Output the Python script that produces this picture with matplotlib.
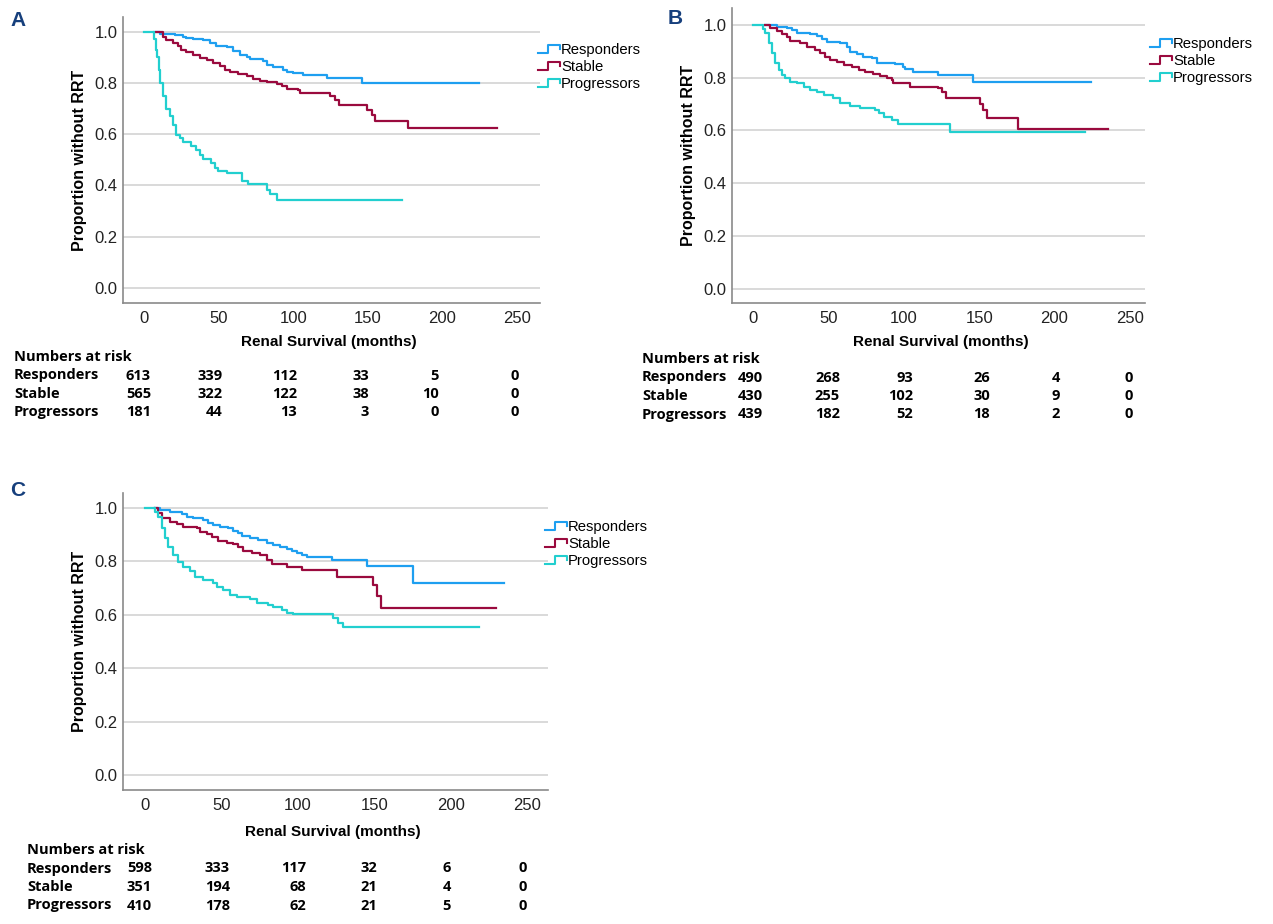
import matplotlib
matplotlib.use('Agg')
from matplotlib import pyplot as plt
from matplotlib.legend_handler import HandlerBase
from matplotlib.lines import Line2D

W, H = 1273, 924

# Kaplan-Meier steps (months, proportion without RRT)
a_resp_t = [7, 10.5, 20.6, 26.2, 28.4, 33, 39.6, 44, 48.5, 55.3, 59.8, 64.2, 68.7, 70.9, 79.9, 82.1, 86.6, 93.3,
            95.6, 100, 106.8, 122.4, 145.9, 224.3]
a_resp_s = [1.0, 0.99, 0.987, 0.98, 0.974, 0.97, 0.968, 0.955, 0.944, 0.939, 0.925, 0.91, 0.9, 0.892, 0.887, 0.87,
            0.861, 0.85, 0.844, 0.838, 0.831, 0.821, 0.801, 0.801]
a_stab_t = [8.3, 12.8, 15, 19.5, 22.8, 25, 28.4, 32.9, 37.4, 41.9, 46.3, 50.8, 54.2, 57.5, 63.1, 68.7, 73.2, 77.7,
            82.1, 88.9, 92.2, 95.6, 103.4, 104.5, 124.7, 128, 131, 149.3, 152.6, 154.9, 176.6, 236.6]
a_stab_s = [1.0, 0.98, 0.968, 0.955, 0.942, 0.929, 0.922, 0.909, 0.896, 0.89, 0.877, 0.864, 0.851, 0.844, 0.835,
            0.825, 0.816, 0.808, 0.803, 0.796, 0.786, 0.778, 0.773, 0.76, 0.749, 0.734, 0.714, 0.695, 0.675, 0.653,
            0.623, 0.623]
a_prog_t = [0, 6.5, 7, 8, 9, 10, 11, 12.8, 15, 17.2, 19.5, 21.7, 23.9, 26.2, 31.8, 35.1, 37.4, 39.6, 45.2, 47.4,
            49.7, 55.3, 65.4, 69.8, 82.1, 84.4, 88.9, 172.8]
a_prog_s = [1.0, 0.985, 0.97, 0.93, 0.9, 0.85, 0.8, 0.747, 0.7, 0.669, 0.636, 0.597, 0.584, 0.568, 0.552, 0.539,
            0.519, 0.503, 0.487, 0.468, 0.457, 0.448, 0.419, 0.406, 0.383, 0.368, 0.344, 0.344]

b_resp_t = [8.2, 15.9, 22.5, 25.8, 29.2, 38, 42.4, 45.7, 49, 57.9, 62.3, 64.5, 68.9, 73.3, 78.8, 82.2, 94.3, 99.8,
            101, 106, 123, 146.2, 223.9]
b_resp_s = [1.0, 0.992, 0.986, 0.98, 0.967, 0.965, 0.957, 0.945, 0.933, 0.929, 0.917, 0.898, 0.888, 0.879, 0.873,
            0.854, 0.85, 0.839, 0.831, 0.822, 0.81, 0.785, 0.785]
b_stab_t = [8.2, 11.5, 15.9, 19.2, 22.5, 24.7, 31.4, 35.8, 41.3, 44.6, 47.9, 51.2, 55.7, 60.1, 65.6, 70, 74.4, 79.9,
            84.4, 88.8, 92.1, 93.2, 104.2, 123, 125.2, 128.1, 150.6, 152.8, 155, 176, 235.6]
b_stab_s = [1.0, 0.986, 0.977, 0.965, 0.955, 0.938, 0.929, 0.917, 0.904, 0.892, 0.879, 0.866, 0.858, 0.848, 0.839,
            0.829, 0.82, 0.814, 0.806, 0.8, 0.791, 0.778, 0.766, 0.759, 0.747, 0.722, 0.699, 0.678, 0.646, 0.606,
            0.606]
b_prog_t = [0, 6.6, 8.2, 10.4, 12.6, 14.8, 17, 19.2, 21.4, 24.7, 29.2, 33.6, 38, 42.4, 46.8, 53.4, 57.9, 64.5, 71.1,
            81, 83.3, 86.6, 92.1, 96.5, 130.7, 220.2]
b_prog_s = [1.0, 0.985, 0.967, 0.929, 0.892, 0.854, 0.829, 0.81, 0.797, 0.785, 0.778, 0.766, 0.753, 0.744, 0.734,
            0.722, 0.703, 0.693, 0.684, 0.678, 0.665, 0.652, 0.64, 0.624, 0.596, 0.596]

c_resp_t = [6.5, 9.8, 16.4, 24, 27.3, 31.6, 38.2, 41.4, 44.7, 49.1, 54.5, 57.8, 61.1, 63.3, 68.7, 74.2, 79.6, 84,
            88.3, 92.7, 96, 99.3, 102.5, 105.8, 122.2, 145.1, 175.2, 235]
c_resp_s = [1.0, 0.991, 0.983, 0.976, 0.966, 0.96, 0.954, 0.944, 0.935, 0.927, 0.923, 0.914, 0.904, 0.894, 0.885,
            0.879, 0.867, 0.86, 0.854, 0.846, 0.839, 0.832, 0.823, 0.814, 0.804, 0.782, 0.717, 0.717]
c_stab_t = [6.5, 8.7, 10.9, 16.4, 20.7, 25.1, 33.8, 36, 40.4, 43.6, 48, 53.4, 57.8, 61.1, 64.4, 69.8, 75.3, 79.6,
            82.9, 92.7, 102.5, 125.9, 149.4, 152, 154.2, 229.7]
c_stab_s = [1.0, 0.979, 0.96, 0.948, 0.939, 0.927, 0.923, 0.91, 0.902, 0.889, 0.876, 0.869, 0.864, 0.854, 0.839,
            0.829, 0.823, 0.804, 0.789, 0.78, 0.767, 0.742, 0.711, 0.671, 0.626, 0.626]
c_prog_t = [0, 6.5, 8.7, 10.9, 13.1, 15.3, 18.5, 21.8, 25.1, 29.5, 32.7, 38.2, 44.7, 46.9, 51.3, 55.6, 60, 68.7,
            73.1, 80.7, 84, 89.4, 92.7, 97.1, 123.3, 126.5, 129.8, 218.8]
c_prog_s = [1.0, 0.985, 0.966, 0.923, 0.885, 0.854, 0.823, 0.798, 0.777, 0.765, 0.742, 0.73, 0.717, 0.705, 0.692,
            0.674, 0.665, 0.658, 0.643, 0.636, 0.63, 0.618, 0.608, 0.602, 0.587, 0.568, 0.553, 0.553]

groups = ['Responders', 'Stable', 'Progressors']
colors = ['#1e9ff0', '#9a0a3e', '#22cfcf']
xticks = [0, 50, 100, 150, 200, 250]
yticks = [0.0, 0.2, 0.4, 0.6, 0.8, 1.0]

# numbers at risk at 0, 50, 100, 150, 200, 250 months
a_risk = [[613, 339, 112, 33, 5, 0], [565, 322, 122, 38, 10, 0], [181, 44, 13, 3, 0, 0]]
b_risk = [[490, 268, 93, 26, 4, 0], [430, 255, 102, 30, 9, 0], [439, 182, 52, 18, 2, 0]]
c_risk = [[598, 333, 117, 32, 6, 0], [351, 194, 68, 21, 4, 0], [410, 178, 62, 21, 5, 0]]


class StepHandler(HandlerBase):
    # little step-shaped legend key like SPSS draws
    def create_artists(self, legend, orig_handle, xdescent, ydescent, width, height, fontsize, trans):
        x0, y0 = -xdescent, -ydescent
        xs = [x0, x0 + 0.45 * width, x0 + 0.45 * width, x0 + width, x0 + width]
        ys = [y0 + 0.1 * height, y0 + 0.1 * height, y0 + 0.85 * height, y0 + 0.85 * height, y0 + 0.45 * height]
        ln = Line2D(xs, ys, color=orig_handle.get_color(), lw=1.5, transform=trans)
        return [ln]


fig = plt.figure(figsize=(W / 100, H / 100), dpi=100)


def px_axes(left, top, right, bottom):
    return fig.add_axes([left / W, 1 - bottom / H, (right - left) / W, (bottom - top) / H])


def km_panel(ax, curves, xlim, ylim, leg_xy):
    lines = []
    for (t, s), col in zip(curves, colors):
        ln, = ax.step(t, s, where='post', color=col, lw=1.6)
        lines.append(ln)
    ax.set_xlim(*xlim)
    ax.set_ylim(*ylim)
    ax.set_xticks(xticks)
    ax.set_yticks(yticks)
    ax.set_yticklabels(['%.1f' % v for v in yticks])
    ax.yaxis.grid(True, color='#cfcfcf', lw=1.1)
    ax.set_axisbelow(True)
    for sp in ['top', 'right']:
        ax.spines[sp].set_visible(False)
    for sp in ['left', 'bottom']:
        ax.spines[sp].set_color('#8a8a8a')
        ax.spines[sp].set_linewidth(1.2)
    ax.tick_params(length=0, labelsize=12, labelcolor='#222222', pad=4)
    ax.tick_params(axis='x', pad=6)
    for lb in ax.get_xticklabels() + ax.get_yticklabels():
        lb.set_family('Liberation Sans')
    ax.set_ylabel('Proportion without RRT', fontsize=11.5, fontweight='bold', family='Liberation Sans',
                  labelpad=5)
    fig.legend(lines, groups, loc='upper left', bbox_to_anchor=(leg_xy[0] / W, 1 - leg_xy[1] / H),
               frameon=False, borderpad=0, borderaxespad=0, handlelength=1.5, handletextpad=0.05,
               labelspacing=0.2, prop={'family': 'Liberation Sans', 'size': 10.7},
               handler_map={Line2D: StepHandler()})


def risk_table(rows, x_label, y_title, col_right, dy=18.5):
    # y_title etc are text baselines in pixels from the top
    tf = {'family': 'Open Sans', 'weight': 'bold', 'size': 10.5}
    fig.text(x_label / W, 1 - y_title / H, 'Numbers at risk', ha='left', va='baseline', **tf)
    for i, (name, vals) in enumerate(zip(groups, rows)):
        y = 1 - (y_title + dy * (i + 1)) / H
        fig.text(x_label / W, y, name, ha='left', va='baseline', **tf)
        for xr, v in zip(col_right, vals):
            fig.text(xr / W, y, str(v), ha='right', va='baseline', **tf)


letter = {'family': 'Liberation Sans', 'weight': 'bold', 'size': 15, 'color': '#163f7c'}
xlab = {'family': 'Liberation Sans', 'weight': 'bold', 'size': 11, 'ha': 'center', 'va': 'center'}

# panel A
ax_a = px_axes(123, 17, 540, 303)
km_panel(ax_a, [(a_resp_t, a_resp_s), (a_stab_t, a_stab_s), (a_prog_t, a_prog_s)],
         (-14.1, 265.4), (-0.0585, 1.057), (538, 43))
fig.text(329 / W, 1 - 342 / H, 'Renal Survival (months)', **xlab)
risk_table(a_risk, 14, 361, [151, 223, 297, 369, 439, 519])
fig.text(18 / W, 1 - 20 / H, 'A', ha='center', va='center', **letter)

# panel B
ax_b = px_axes(732, 8, 1145, 303)
km_panel(ax_b, [(b_resp_t, b_resp_s), (b_stab_t, b_stab_s), (b_prog_t, b_prog_s)],
         (-13.9, 260.0), (-0.052, 1.063), (1150, 37))
fig.text(941 / W, 1 - 342 / H, 'Renal Survival (months)', **xlab)
risk_table(b_risk, 642, 363, [763, 840, 913, 990, 1060, 1133])
fig.text(675 / W, 1 - 19 / H, 'B', ha='center', va='center', **letter)

# panel C
ax_c = px_axes(123, 493, 548, 790)
km_panel(ax_c, [(c_resp_t, c_resp_s), (c_stab_t, c_stab_s), (c_prog_t, c_prog_s)],
         (-14.4, 263.7), (-0.055, 1.055), (545, 520))
fig.text(333 / W, 1 - 832 / H, 'Renal Survival (months)', **xlab)
risk_table(c_risk, 27, 854, [152, 230, 306, 377, 451, 527])
fig.text(18 / W, 1 - 491 / H, 'C', ha='center', va='center', **letter)

fig.savefig('out.png', dpi=100)
